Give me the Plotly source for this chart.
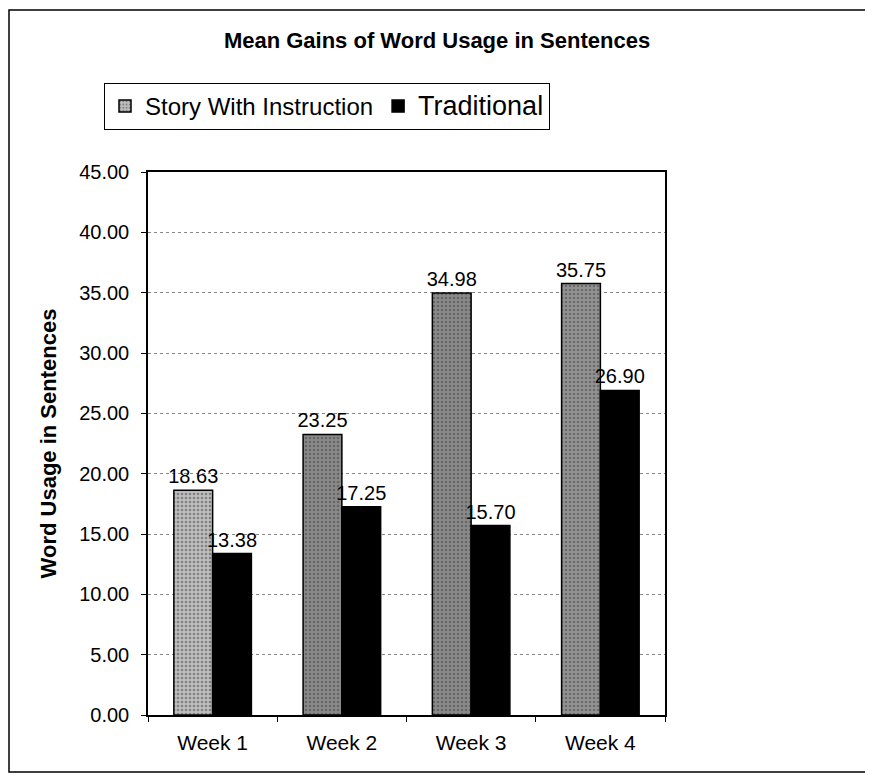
import plotly.graph_objects as go

categories = ["Week 1", "Week 2", "Week 3", "Week 4"]
story_values = [18.63, 23.25, 34.98, 35.75]
traditional_values = [13.38, 17.25, 15.70, 26.90]
story_colors = ["#bdbdbd", "#8a8a8a", "#8a8a8a", "#939393"]

FONT = "Arial, Liberation Sans, sans-serif"

# plot-area pixel geometry (reference coords; page has 8px body margin)
PX_L, PX_R, PX_T, PX_B = 148, 665, 172, 715
PW, PH = PX_R - PX_L, PX_B - PX_T


def px(x):
    return (x - PX_L) / PW


def py(y):
    return (PX_B - y) / PH


fig = go.Figure()
fig.add_trace(go.Bar(
    x=categories, y=story_values, name="Story With Instruction",
    marker=dict(color=story_colors, line=dict(color="black", width=1.5),
                pattern=dict(shape=".", fgcolor="#4a4a4a", size=4, solidity=0.35)),
    text=[f"{v:.2f}" for v in story_values], textposition="outside",
    constraintext="none",
    textfont=dict(size=20, color="black", family=FONT), cliponaxis=False,
))
fig.add_trace(go.Bar(
    x=categories, y=traditional_values,
    name="<span style='font-size:27px'>Traditional</span>",
    marker=dict(color="black", line=dict(color="black", width=1.5)),
    text=[f"{v:.2f}" for v in traditional_values], textposition="outside",
    constraintext="none",
    textfont=dict(size=20, color="black", family=FONT), cliponaxis=False,
))

W, H = 865, 769
fig.update_layout(
    width=W, height=H,
    margin=dict(l=PX_L - 8, r=W - (PX_R - 8), t=PX_T - 8, b=H - (PX_B - 8)),
    paper_bgcolor="white", plot_bgcolor="white",
    barmode="group", bargap=0.4, bargroupgap=0,
    font=dict(family=FONT, color="black", size=20),
    title=dict(text="<b>Mean Gains of Word Usage in Sentences</b>",
               x=px(437), xref="paper", xanchor="center",
               y=1 - (40 - 8) / H, yanchor="middle", font=dict(size=22)),
    legend=dict(orientation="h", x=px(104), y=py(83),
                xanchor="left", yanchor="top", bordercolor="black", borderwidth=1,
                bgcolor="white", font=dict(size=24), itemwidth=30,
                traceorder="normal", entrywidthmode="pixels"),
    showlegend=True,
)
fig.update_yaxes(
    range=[0, 45], dtick=5, tickformat=".2f",
    showgrid=True, gridcolor="#888888", griddash="dot", gridwidth=1,
    showline=True, linecolor="black", linewidth=1.5, mirror=True,
    ticks="outside", ticklen=5, tickcolor="black", ticklabelstandoff=8,
    tickfont=dict(size=20), zeroline=False,
    title=dict(text="<b>Word Usage in Sentences</b>", font=dict(size=22), standoff=16),
)
fig.update_xaxes(
    showline=True, linecolor="black", linewidth=1.5, mirror=True,
    ticks="outside", ticklen=5, tickcolor="black", tickson="boundaries",
    ticklabelstandoff=8, tickfont=dict(size=21), showgrid=False,
)

fig.add_shape(type="rect", xref="paper", yref="paper",
              x0=px(9), x1=px(870), y0=py(772), y1=py(10),
              line=dict(color="black", width=1.5), fillcolor="rgba(0,0,0,0)", layer="below")

fig.write_html("out.html")
